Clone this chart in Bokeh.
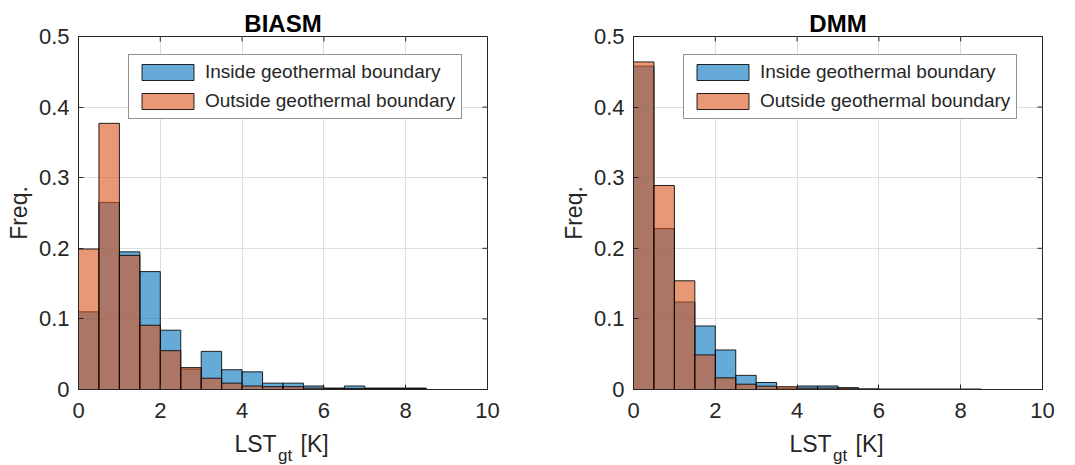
import numpy as np
from bokeh.plotting import figure
from bokeh.models import (Range1d, FixedTicker, Legend, LegendItem, ColumnDataSource)
from bokeh.core.properties import value
from bokeh.layouts import row, column
from bokeh.embed import file_html
from bokeh.resources import INLINE

# Histogram bins (width 0.5 K) and axis ticks
bin_edges = [0.0, 0.5, 1.0, 1.5, 2.0, 2.5, 3.0, 3.5, 4.0, 4.5, 5.0,
             5.5, 6.0, 6.5, 7.0, 7.5, 8.0, 8.5, 9.0, 9.5, 10.0]
x_ticks = [0, 2, 4, 6, 8, 10]
y_ticks = [0, 0.1, 0.2, 0.3, 0.4, 0.5]
y_tick_labels = ["0", "0.1", "0.2", "0.3", "0.4", "0.5"]
series_names = ["Inside geothermal boundary", "Outside geothermal boundary"]
panel_titles = ["BIASM", "DMM"]
x_label_parts = ["LST", "gt", "[K]"]

# Relative frequencies per bin
biasm_inside = [0.110, 0.265, 0.195, 0.167, 0.084, 0.029, 0.054, 0.028, 0.025, 0.009,
                0.009, 0.005, 0.002, 0.005, 0.002, 0.002, 0.002, 0.0, 0.0, 0.0]
biasm_outside = [0.199, 0.377, 0.190, 0.091, 0.055, 0.031, 0.016, 0.009, 0.005, 0.004,
                 0.004, 0.002, 0.0015, 0.0015, 0.0015, 0.0015, 0.0015, 0.0, 0.0, 0.0]
dmm_inside = [0.458, 0.228, 0.124, 0.090, 0.056, 0.020, 0.010, 0.002, 0.005, 0.005,
              0.0025, 0.0008, 0.0005, 0.0005, 0.0005, 0.0005, 0.0005, 0.0, 0.0, 0.0]
dmm_outside = [0.464, 0.289, 0.154, 0.049, 0.0165, 0.0075, 0.0047, 0.004, 0.002, 0.002,
               0.002, 0.0005, 0.0003, 0.0003, 0.0003, 0.0003, 0.0003, 0.0, 0.0, 0.0]

BLUE = "#0072BD"
ORANGE = "#D95319"
INK = "#262626"
FONT = "Liberation Sans"

X_MIN, X_MAX = 0, 10
Y_MIN, Y_MAX = 0, 0.5
MAIN_H = 429          # plot part; the x-axis title strip sits below it
STRIP_H = 465 - MAIN_H
FRAME_W = 409
FRAME_H = 353
TICK_PX = 5


def style_axis(ax, ticks):
    ax.ticker = FixedTicker(ticks=ticks)
    ax.axis_line_color = INK
    ax.major_tick_line_color = INK
    ax.major_tick_in = TICK_PX
    ax.major_tick_out = 0
    ax.minor_tick_line_color = None
    ax.major_label_text_font = FONT
    ax.major_label_text_color = INK
    ax.major_label_text_font_size = "22px"


def make_panel(title, inside, outside, border_left, border_right):
    width = border_left + FRAME_W + border_right
    p = figure(width=width, height=MAIN_H, output_backend="svg", toolbar_location=None,
               x_range=Range1d(X_MIN, X_MAX), y_range=Range1d(Y_MIN, Y_MAX),
               min_border_left=border_left, min_border_right=border_right,
               min_border_top=36, min_border_bottom=MAIN_H - 36 - FRAME_H)
    p.background_fill_color = "white"
    p.border_fill_color = "white"
    p.outline_line_color = INK
    p.outline_line_width = 1

    p.title.text = title
    p.title.align = "center"
    p.title.text_font = FONT
    p.title.text_font_size = "24px"
    p.title.text_font_style = "bold"
    p.title.text_color = "black"
    p.title.standoff = 0

    for g in p.grid:
        g.grid_line_color = "#dedede"
        g.grid_line_width = 1
    p.xgrid.ticker = FixedTicker(ticks=x_ticks)
    p.ygrid.ticker = FixedTicker(ticks=y_ticks)

    style_axis(p.xaxis[0], x_ticks)
    p.xaxis[0].major_label_standoff = 13
    style_axis(p.yaxis[0], y_ticks)
    p.yaxis[0].major_label_standoff = 9
    p.yaxis[0].major_label_overrides = {t: s for t, s in zip(y_ticks, y_tick_labels)}
    p.yaxis[0].axis_label = "Freq."
    p.yaxis[0].axis_label_text_font = FONT
    p.yaxis[0].axis_label_text_font_size = "23px"
    p.yaxis[0].axis_label_text_font_style = "normal"
    p.yaxis[0].axis_label_text_color = INK
    p.yaxis[0].axis_label_standoff = 4

    left = bin_edges[:-1]
    right = bin_edges[1:]
    src_in = ColumnDataSource(dict(left=left, right=right, top=inside))
    src_out = ColumnDataSource(dict(left=left, right=right, top=outside))
    r_in = p.quad(left="left", right="right", bottom=0, top="top", source=src_in,
                  fill_color=BLUE, fill_alpha=0.6, line_color="black", line_alpha=0.85,
                  line_width=1)
    r_out = p.quad(left="left", right="right", bottom=0, top="top", source=src_out,
                   fill_color=ORANGE, fill_alpha=0.6, line_color="black", line_alpha=0.85,
                   line_width=1)

    # inward tick marks on the top and right edges of the box
    dy = (Y_MAX - Y_MIN) * TICK_PX / FRAME_H
    dx = (X_MAX - X_MIN) * TICK_PX / FRAME_W
    p.segment(x0=x_ticks, x1=x_ticks, y0=[Y_MAX] * len(x_ticks),
              y1=[Y_MAX - dy] * len(x_ticks), line_color=INK, line_width=1)
    p.segment(x0=[X_MAX] * len(y_ticks), x1=[X_MAX - dx] * len(y_ticks),
              y0=y_ticks, y1=y_ticks, line_color=INK, line_width=1)

    legend = Legend(items=[LegendItem(label=series_names[0], renderers=[r_in]),
                           LegendItem(label=series_names[1], renderers=[r_out])],
                    location=(50, 270), margin=0, padding=6, spacing=7,
                    glyph_width=65, glyph_height=20, label_height=20, label_standoff=5,
                    label_text_font=FONT, label_text_font_size="19px",
                    label_text_color=INK, border_line_color=INK, border_line_width=1,
                    background_fill_color="white", background_fill_alpha=1.0)
    p.add_layout(legend)

    # x-axis title with a subscript, set as text in a strip under the plot
    s = figure(width=width, height=STRIP_H, output_backend="svg", toolbar_location=None,
               x_range=Range1d(X_MIN, X_MAX), y_range=Range1d(0, STRIP_H),
               min_border_left=border_left, min_border_right=border_right,
               min_border_top=0, min_border_bottom=0,
               x_axis_type=None, y_axis_type=None)
    s.outline_line_color = None
    s.background_fill_color = "white"
    s.border_fill_color = "white"
    s.grid.visible = False
    s.text(x=[3.814], y=[STRIP_H - 14], text=[x_label_parts[0]], text_font=value(FONT),
           text_font_size="23px", text_color=INK, text_baseline="alphabetic",
           text_align="left")
    s.text(x=[4.878], y=[STRIP_H - 26], text=[x_label_parts[1]], text_font=value(FONT),
           text_font_size="17px", text_color=INK, text_baseline="alphabetic",
           text_align="left")
    s.text(x=[5.428], y=[STRIP_H - 14], text=[x_label_parts[2]], text_font=value(FONT),
           text_font_size="23px", text_color=INK, text_baseline="alphabetic",
           text_align="left")
    return column(p, s, spacing=0)


c1 = make_panel(panel_titles[0], biasm_inside, biasm_outside, 78, 50)
c2 = make_panel(panel_titles[1], dmm_inside, dmm_outside, 96, 33)
layout = row(c1, c2, spacing=0)

open("out.html", "w").write(file_html(layout, INLINE))
